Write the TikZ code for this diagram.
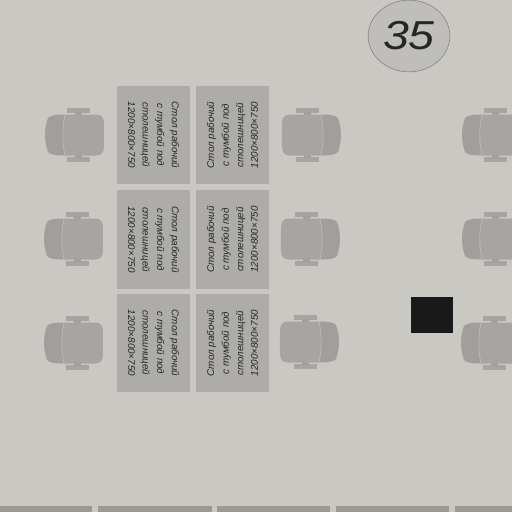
\documentclass[tikz,border=0pt]{standalone}
\usepackage{fontspec}
\usetikzlibrary{shapes.geometric}
\setmainfont{Liberation Sans}
\definecolor{floorc}{HTML}{CAC8C2}
\definecolor{deskc}{HTML}{ADACA8}
\definecolor{chairc}{HTML}{A6A5A1}
\definecolor{backc}{HTML}{A09F9B}
\definecolor{stripc}{HTML}{9A9994}
\definecolor{platec}{HTML}{BFBEBA}
\tikzset{
  desk/.style={draw=none,fill=deskc,minimum width=73*0.5669pt,minimum height=99*0.5669pt,inner sep=0pt},
  desktext/.style={font=\itshape\fontsize{5.6}{8.3}\selectfont,align=center,text=black!85},
  chairpart/.style={fill=chairc,draw=none}
}
\newcommand{\chairat}[3]{
  \begin{scope}[shift={(#1,#2)},xscale=#3]
    % arm rests
    \fill[chairc] (-7,-27) rectangle (16,-22);
    \fill[chairc] (-7,27) rectangle (16,22);
    \fill[backc] (1,-23) rectangle (8,-20);
    \fill[backc] (1,23) rectangle (8,20);
    % back
    \fill[backc] (-9,-20.5) .. controls (-18,-20.5) and (-24,-19.5) .. (-26,-17)
      .. controls (-30,-6) and (-30,6) .. (-26,17)
      .. controls (-24,19.5) and (-18,20.5) .. (-9,20.5) -- cycle;
    % seat
    \fill[chairpart] (-9,-20.5) -- (22,-20.5) .. controls (28,-20.5) and (30,-17) .. (30,-11)
      -- (30,11) .. controls (30,17) and (28,20.5) .. (22,20.5) -- (-9,20.5)
      .. controls (-12,7) and (-12,-7) .. (-9,-20.5) -- cycle;
    \draw[floorc,line width=0.25pt] (-9,-20.5) .. controls (-12,-7) and (-12,7) .. (-9,20.5);
  \end{scope}
}
\begin{document}
\begin{tikzpicture}[x=0.02cm,y=-0.02cm]
  \useasboundingbox (0,0) rectangle (512,512);
  \fill[floorc] (0,0) rectangle (512,512);
  % number
  \node[ellipse,draw=gray!90,fill=platec,minimum width=82*0.5669pt,minimum height=72*0.5669pt,inner sep=0pt] (number) at (409,36) {};
  \node[font=\itshape\fontsize{23}{23}\selectfont,text=black!85,xscale=1.15] at (number) {35};
  % desks
  \foreach \n/\y in {a/135,b/239.5,c/343}
  {
    \node[desk] (left\n) at (153.5,\y) {};
    \node[desk] (right\n) at (232.5,\y) {};
    \node[desktext,rotate=-90] at (left\n) {Стол рабочий\\с тумбой под\\столешницей\\1200×800×750};
    \node[desktext,rotate=90] at (right\n) {Стол рабочий\\с тумбой под\\столешницей\\1200×800×750};
  }
  % chairs
  \foreach \x/\y/\s in {74/135/1,73/239/1,73/343/1,312/135/-1,311/239/-1,310/342/-1,491/135/1,491/239/1,490/343/1}
  {
    \chairat{\x}{\y}{\s}
  }
  % black square
  \node[fill=black!90,minimum width=42*0.5669pt,minimum height=36*0.5669pt,inner sep=0pt] (block) at (432,315) {};
  % strip along the bottom
  \foreach \a/\b in {0/92,98/212,217/330,336/449,455/512}
  {
    \fill[stripc] (\a,506) rectangle (\b,512);
  }
\end{tikzpicture}
\end{document}
